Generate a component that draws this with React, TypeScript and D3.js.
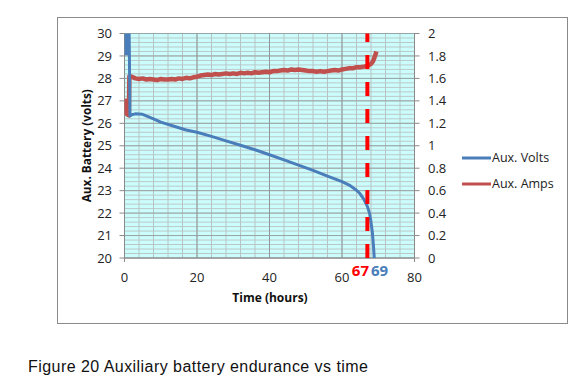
import React from "react";
import * as d3 from "d3";

const xTicks = [0, 20, 40, 60, 80];
const yLeftTicks = [20, 21, 22, 23, 24, 25, 26, 27, 28, 29, 30];
const yRightTicks = [0, 0.2, 0.4, 0.6, 0.8, 1, 1.2, 1.4, 1.6, 1.8, 2];

const voltsTime = [0, 0.15, 0.3, 0.45, 0.6, 0.75, 0.9, 1.05, 1.2, 1.35, 1.5, 2, 3, 5, 8, 10, 13, 17, 20, 24, 28, 32, 36, 40, 44, 48, 52, 56, 60, 62, 64, 65, 66, 67, 67.6, 68, 68.4, 68.7, 68.9];
const volts = [31, 29.1, 31, 29.1, 31, 29.1, 31, 29.1, 31, 29.1, 26.33, 26.38, 26.42, 26.4, 26.2, 26.05, 25.9, 25.7, 25.6, 25.42, 25.22, 25.02, 24.82, 24.6, 24.37, 24.14, 23.9, 23.65, 23.4, 23.25, 23.02, 22.86, 22.62, 22.3, 21.99, 21.6, 21.1, 20.5, 20.0];

const ampsTime = [0, 0.3, 0.7, 1.2, 1.35, 2, 3, 4, 5, 6, 7, 8, 9, 10, 11, 12, 13, 14, 15, 16, 17, 18, 19, 20, 21, 22, 23, 24, 25, 26, 27, 28, 29, 30, 31, 32, 33, 34, 35, 36, 37, 38, 39, 40, 41, 42, 43, 44, 45, 46, 47, 48, 49, 50, 51, 52, 53, 54, 55, 56, 57, 58, 59, 60, 61, 62, 63, 64, 65, 66, 67, 67.5, 68, 68.5, 69, 69.5];
const amps = [1.42, 1.30, 1.28, 1.27, 1.62, 1.615, 1.60, 1.595, 1.60, 1.59, 1.595, 1.59, 1.585, 1.595, 1.59, 1.59, 1.595, 1.59, 1.60, 1.595, 1.605, 1.60, 1.61, 1.615, 1.625, 1.63, 1.635, 1.63, 1.64, 1.635, 1.64, 1.645, 1.64, 1.645, 1.64, 1.65, 1.645, 1.65, 1.645, 1.655, 1.65, 1.655, 1.66, 1.655, 1.665, 1.665, 1.67, 1.675, 1.67, 1.68, 1.675, 1.68, 1.675, 1.67, 1.665, 1.665, 1.66, 1.665, 1.66, 1.665, 1.67, 1.675, 1.67, 1.68, 1.685, 1.69, 1.69, 1.70, 1.70, 1.705, 1.71, 1.72, 1.73, 1.75, 1.79, 1.84];

const cutoffTime = 67;
const endTime = 69;
const seriesNames = ["Aux. Volts", "Aux. Amps"];
const caption = "Figure 20 Auxiliary battery endurance vs time";

export default function App() {
  const W = 587, H = 387;
  const x = d3.scaleLinear().domain([0, 80]).range([124.5, 414.5]);
  const yL = d3.scaleLinear().domain([20, 30]).range([258, 33.5]);
  const yR = d3.scaleLinear().domain([0, 2]).range([258, 33.5]);
  const font = "'Open Sans', sans-serif";

  const minorX = d3.range(0, 80.001, 4);
  const minorY = d3.range(20, 30.001, 0.2);

  const vPts: [number, number][] = voltsTime.map((t, i) => [t, volts[i]]);
  const n = Math.min(ampsTime.length, amps.length);
  const aPts: [number, number][] = ampsTime.slice(0, n).map((t, i) => [t, amps[i]]);

  const vLine = d3.line<[number, number]>().x(d => x(d[0])).y(d => yL(d[1]));
  const aLine = d3.line<[number, number]>().x(d => x(d[0])).y(d => yR(d[1]));

  const [x0, x1] = x.range();
  const [yb, yt] = yL.range();

  return (
    <svg width={W} height={H} style={{ position: "absolute", left: 0, top: 0, background: "#fff" }}>
      <rect x={57.5} y={17.5} width={510} height={306} fill="#fff" stroke="#8a8a8a" strokeWidth={1} />
      <defs>
        <clipPath id="plotclip">
          <rect x={x0} y={yt} width={x1 - x0} height={yb - yt} />
        </clipPath>
      </defs>
      <rect x={x0} y={yt} width={x1 - x0} height={yb - yt} fill="#ccfdfd" />
      {minorY.map((v, i) => (
        <line key={"my" + i} x1={x0} x2={x1} y1={yL(v)} y2={yL(v)} stroke="#bcc8c8" strokeWidth={1} />
      ))}
      {minorX.map((v, i) => (
        <line key={"mx" + i} x1={x(v)} x2={x(v)} y1={yt} y2={yb} stroke="#b8c4c4" strokeWidth={1} />
      ))}
      {yLeftTicks.map(v => (
        <line key={"gy" + v} x1={x0} x2={x1} y1={yL(v)} y2={yL(v)} stroke="#9aa4a4" strokeWidth={1} />
      ))}
      {xTicks.map(v => (
        <line key={"gx" + v} x1={x(v)} x2={x(v)} y1={yt} y2={yb} stroke="#8f9999" strokeWidth={1} />
      ))}
      <line x1={x0} x2={x0} y1={yt} y2={yb + 4} stroke="#8a8a8a" />
      <line x1={x1} x2={x1} y1={yt} y2={yb + 4} stroke="#8a8a8a" />
      <line x1={x0} x2={x1} y1={yb} y2={yb} stroke="#8a8a8a" />
      {yLeftTicks.map(v => (
        <g key={"ly" + v}>
          <line x1={x0 - 5} x2={x0} y1={yL(v)} y2={yL(v)} stroke="#8a8a8a" />
          <text x={112} y={yL(v)} dy="0.35em" textAnchor="end" fontFamily={font} fontSize={13} fill="#222">{v}</text>
        </g>
      ))}
      {yRightTicks.map(v => (
        <g key={"ry" + v}>
          <line x1={x1} x2={x1 + 5} y1={yR(v)} y2={yR(v)} stroke="#8a8a8a" />
          <text x={428} y={yR(v)} dy="0.35em" textAnchor="start" fontFamily={font} fontSize={13} fill="#222">{+v.toFixed(1)}</text>
        </g>
      ))}
      {xTicks.map(v => (
        <text key={"tx" + v} x={x(v)} y={277} dy="0.35em" textAnchor="middle" fontFamily={font} fontSize={13} fill="#222">{v}</text>
      ))}
      <g clipPath="url(#plotclip)">
        <path d={aLine(aPts) || ""} fill="none" stroke="#c0504d" strokeWidth={4.5} strokeLinejoin="round" />
        <path d={vLine(vPts) || ""} fill="none" stroke="#4a7ebb" strokeWidth={3} strokeLinejoin="round" />
      </g>
      <line x1={x(cutoffTime)} x2={x(cutoffTime)} y1={yb} y2={yt} stroke="#ff0000" strokeWidth={4} strokeDasharray="14,13" />
      <text x={369} y={271} dy="0.35em" textAnchor="end" fontFamily={font} fontWeight="bold" fontSize={15} fill="#ff0000">{cutoffTime}</text>
      <text x={371} y={271} dy="0.35em" textAnchor="start" fontFamily={font} fontWeight="bold" fontSize={15} fill="#4a7ebb">{endTime}</text>
      <text transform={`translate(87,${(yt + yb) / 2}) rotate(-90)`} textAnchor="middle" dy="0.35em" fontFamily={font} fontWeight="bold" fontSize={11.8} fill="#111">Aux. Battery (volts)</text>
      <text x={270} y={298} dy="0.35em" textAnchor="middle" fontFamily={font} fontWeight="bold" fontSize={12} fill="#111">Time (hours)</text>
      <line x1={462} x2={491} y1={158} y2={158} stroke="#4a7ebb" strokeWidth={3} />
      <text x={492} y={158} dy="0.35em" fontFamily={font} fontSize={12.5} fill="#222">{seriesNames[0]}</text>
      <line x1={462} x2={491} y1={184} y2={184} stroke="#c0504d" strokeWidth={3} />
      <text x={492} y={184} dy="0.35em" fontFamily={font} fontSize={12.5} fill="#222">{seriesNames[1]}</text>
      <text x={28} y={372} fontFamily="'Liberation Sans', Arial, sans-serif" fontSize={16} letterSpacing={0.45} fill="#111">{caption}</text>
    </svg>
  );
}
